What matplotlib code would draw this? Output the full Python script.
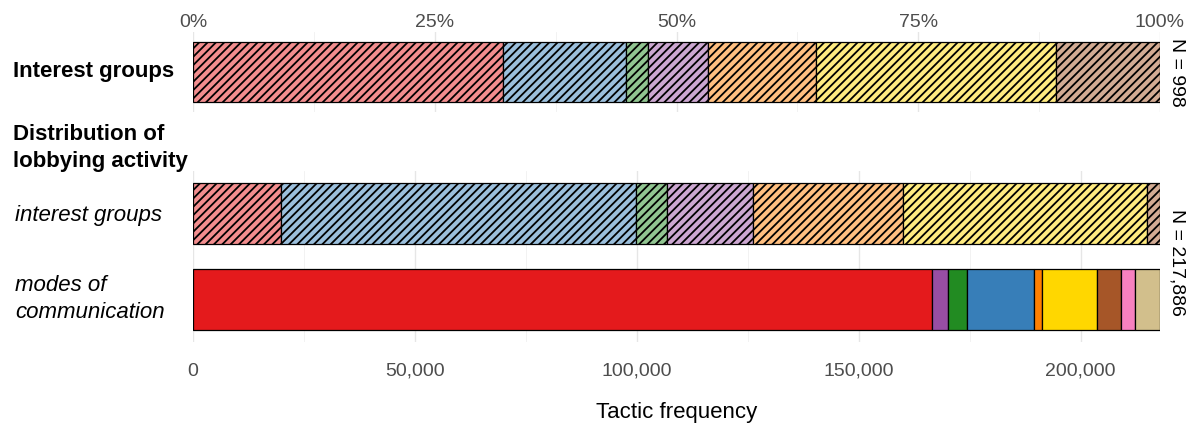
import matplotlib.pyplot as plt
import numpy as np
from matplotlib.ticker import FuncFormatter, MultipleLocator

plt.rcParams['font.family'] = ['Liberation Sans', 'DejaVu Sans']
plt.rcParams['hatch.linewidth'] = 1.3

# interest-group types (hatched bars)
group_counts = [320, 127, 23, 62, 111, 248, 107]          # N = 998 interest groups
group_activity = [19800, 80000, 7000, 19400, 33800, 55000, 2886]   # tactic frequency
group_colors = ['#E41A1C', '#377EB8', '#228B22', '#984EA3', '#FF7F00', '#FFD700', '#A65628']

# modes of communication (solid bars)
mode_activity = [166600, 3600, 4100, 15300, 1800, 12200, 5400, 3200, 5686]
mode_colors = ['#E41A1C', '#984EA3', '#228B22', '#377EB8', '#FF7F00', '#FFD700',
               '#A65628', '#F781BF', '#D2BF8C']

total = sum(mode_activity)
bar_h = 0.71
grid_major = dict(color='#E6E6E6', linewidth=1.0)
grid_minor = dict(color='#F0F0F0', linewidth=0.6)


def light(c, a=0.5):
    rgb = np.array(plt.matplotlib.colors.to_rgb(c))
    return tuple(1 - a * (1 - rgb))


def style_axis(ax, pad):
    for s in ax.spines.values():
        s.set_visible(False)
    ax.set_yticks([])
    ax.tick_params(axis='x', which='both', length=0)
    ax.tick_params(axis='x', labelsize=14, labelcolor='#4D4D4D', pad=pad)
    ax.grid(axis='x', which='major', **grid_major)
    ax.grid(axis='x', which='minor', **grid_minor)
    ax.set_axisbelow(True)


W, H = 1192, 425
fig = plt.figure(figsize=(W / 100, H / 100), dpi=100)

# top panel: share of interest groups
ax1 = fig.add_axes([193 / W, 1 - 112 / H, 967 / W, 80 / H])
shares = np.array(group_counts) / sum(group_counts) * 100
left = 0
for v, c in zip(shares, group_colors):
    ax1.barh(0, v, left=left, height=bar_h, color=light(c), edgecolor='black',
             linewidth=0.9, hatch='////')
    left += v
ax1.set_xlim(0, 100)
ax1.set_ylim(-0.47, 0.47)
ax1.xaxis.set_major_locator(MultipleLocator(25))
ax1.xaxis.set_minor_locator(MultipleLocator(12.5))
ax1.xaxis.set_major_formatter(FuncFormatter(lambda x, p: f'{x:.0f}%'))
ax1.xaxis.tick_top()
style_axis(ax1, pad=1)

# bottom panel: distribution of lobbying activity
ax2 = fig.add_axes([193 / W, 1 - 342 / H, 967 / W, 171 / H])
left = 0
for v, c in zip(group_activity, group_colors):
    ax2.barh(1, v, left=left, height=bar_h, color=light(c), edgecolor='black',
             linewidth=0.9, hatch='////')
    left += v
left = 0
for v, c in zip(mode_activity, mode_colors):
    ax2.barh(0, v, left=left, height=bar_h, color=c, edgecolor='black', linewidth=0.9)
    left += v
ax2.set_xlim(0, total)
ax2.set_ylim(-0.5, 1.5)
ax2.xaxis.set_major_locator(MultipleLocator(50000))
ax2.xaxis.set_minor_locator(MultipleLocator(25000))
ax2.xaxis.set_major_formatter(FuncFormatter(lambda x, p: f'{x:,.0f}'))
style_axis(ax2, pad=15)
ax2.set_xlabel('Tactic frequency', fontsize=16, labelpad=16)

# left-hand labels
fig.text(13 / W, 1 - 72 / H, 'Interest groups', fontsize=16, fontweight='bold',
         ha='left', va='center')
fig.text(13 / W, 1 - 148 / H, 'Distribution of\nlobbying activity', fontsize=16,
         fontweight='bold', ha='left', va='center', linespacing=1.4)
fig.text(15 / W, 1 - 216 / H, 'interest groups', fontsize=16, style='italic',
         ha='left', va='center')
fig.text(15 / W, 1 - 299 / H, 'modes of\ncommunication', fontsize=16, style='italic',
         ha='left', va='center', linespacing=1.4)

# sample sizes on the right
fig.text(1177 / W, 1 - 72 / H, f'N = {sum(group_counts):,}', fontsize=14,
         rotation=270, ha='center', va='center')
fig.text(1177 / W, 1 - 262 / H, f'N = {total:,}', fontsize=14,
         rotation=270, ha='center', va='center')

fig.savefig('out.png', dpi=100)
